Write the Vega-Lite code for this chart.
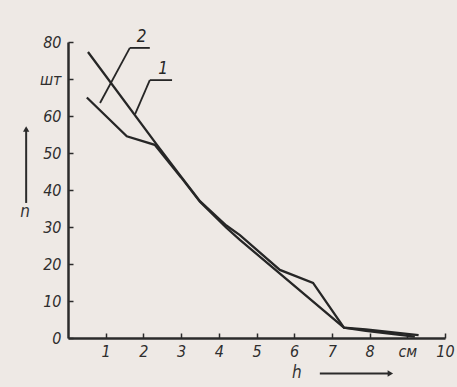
{
  "$schema": "https://vega.github.io/schema/vega-lite/v6.json",
  "width": 377,
  "height": 296,
  "autosize": {"type": "none"},
  "padding": {"left": 68, "top": 42, "right": 12, "bottom": 49},
  "background": "#eee9e5",
  "config": {
    "view": {"stroke": null},
    "axis": {
      "domainColor": "#2b2b2b",
      "domainWidth": 2.5,
      "tickColor": "#2b2b2b",
      "tickWidth": 1.5,
      "grid": false,
      "labelFont": "DejaVu Sans Condensed",
      "labelFontStyle": "italic",
      "labelFontSize": 16,
      "labelColor": "#2e2e2e",
      "title": null
    }
  },
  "datasets": {
    "curves": [
      {"curve": "1", "h": 0.53, "n": 77.3},
      {"curve": "1", "h": 2.36, "n": 52.2},
      {"curve": "1", "h": 3.0, "n": 43.6},
      {"curve": "1", "h": 3.5, "n": 37.0},
      {"curve": "1", "h": 4.2, "n": 30.4},
      {"curve": "1", "h": 4.56, "n": 27.8},
      {"curve": "1", "h": 5.62, "n": 18.4},
      {"curve": "1", "h": 6.5, "n": 14.9},
      {"curve": "1", "h": 7.32, "n": 2.8},
      {"curve": "1", "h": 7.9, "n": 2.3},
      {"curve": "1", "h": 9.3, "n": 0.8},
      {"curve": "2", "h": 0.5, "n": 65},
      {"curve": "2", "h": 1.56, "n": 54.5},
      {"curve": "2", "h": 2.3, "n": 52.2},
      {"curve": "2", "h": 3.0, "n": 43.4},
      {"curve": "2", "h": 3.5, "n": 36.8},
      {"curve": "2", "h": 4.2, "n": 29.8},
      {"curve": "2", "h": 4.56, "n": 26.5},
      {"curve": "2", "h": 7.32, "n": 2.8},
      {"curve": "2", "h": 7.9, "n": 1.9},
      {"curve": "2", "h": 9.2, "n": 0.4}
    ],
    "leaders": [
      {"x": 1.64, "y": 78.4, "x2": 0.85, "y2": 63.5},
      {"x": 1.64, "y": 78.4, "x2": 2.17, "y2": 78.4},
      {"x": 2.17, "y": 69.7, "x2": 1.78, "y2": 60.5},
      {"x": 2.17, "y": 69.7, "x2": 2.76, "y2": 69.7}
    ],
    "curveLabels": [
      {"x": 1.95, "y": 81.4, "label": "2"},
      {"x": 2.52, "y": 72.6, "label": "1"}
    ],
    "arrows": [
      {"x": -1.11, "y": 36.5, "x2": -1.11, "y2": 56},
      {"x": 6.68, "y": -9.6, "x2": 8.5, "y2": -9.6}
    ],
    "titles": [
      {"x": 6.07, "y": -9.4, "label": "h"},
      {"x": -1.14, "y": 34, "label": "n"}
    ]
  },
  "layer": [
    {
      "data": {"name": "curves"},
      "mark": {"type": "line", "color": "#262626", "strokeWidth": 2.3},
      "encoding": {
        "x": {
          "field": "h", "type": "quantitative",
          "scale": {"domain": [0, 10], "nice": false, "zero": false},
          "axis": {
            "values": [1, 2, 3, 4, 5, 6, 7, 8, 9, 10],
            "tickCount": 20,
            "format": "d",
            "tickSize": -5,
            "labelPadding": 10,
            "labelOverlap": false,
            "labelFlush": false,
            "labelExpr": "datum.value == 9 ? 'см' : datum.label"
          }
        },
        "y": {
          "field": "n", "type": "quantitative",
          "scale": {"domain": [0, 80], "nice": false},
          "axis": {
            "values": [0, 10, 20, 30, 40, 50, 60, 70, 80],
            "tickCount": 20,
            "format": "d",
            "tickSize": -5,
            "labelPadding": 12,
            "labelOverlap": false,
            "labelFlush": false,
            "labelExpr": "datum.value == 70 ? 'шт' : datum.label"
          }
        },
        "detail": {"field": "curve"}
      }
    },
    {
      "data": {"name": "leaders"},
      "mark": {"type": "rule", "color": "#262626", "strokeWidth": 1.8},
      "encoding": {
        "x": {"field": "x", "type": "quantitative"},
        "y": {"field": "y", "type": "quantitative"},
        "x2": {"field": "x2"},
        "y2": {"field": "y2"}
      }
    },
    {
      "data": {"name": "curveLabels"},
      "mark": {"type": "text", "font": "DejaVu Sans Condensed", "fontStyle": "italic", "fontSize": 17, "color": "#262626", "baseline": "middle", "align": "center"},
      "encoding": {
        "x": {"field": "x", "type": "quantitative"},
        "y": {"field": "y", "type": "quantitative"},
        "text": {"field": "label"}
      }
    },
    {
      "data": {"name": "arrows"},
      "mark": {"type": "rule", "color": "#2b2b2b", "strokeWidth": 2},
      "encoding": {
        "x": {"field": "x", "type": "quantitative"},
        "y": {"field": "y", "type": "quantitative"},
        "x2": {"field": "x2"},
        "y2": {"field": "y2"}
      }
    },
    {
      "data": {"values": [{"x": -1.11, "y": 56.5}]},
      "mark": {"type": "point", "shape": "triangle-up", "filled": true, "color": "#2b2b2b", "size": 40, "opacity": 1},
      "encoding": {
        "x": {"field": "x", "type": "quantitative"},
        "y": {"field": "y", "type": "quantitative"}
      }
    },
    {
      "data": {"values": [{"x": 8.55, "y": -9.6}]},
      "mark": {"type": "point", "shape": "triangle-right", "filled": true, "color": "#2b2b2b", "size": 40, "opacity": 1},
      "encoding": {
        "x": {"field": "x", "type": "quantitative"},
        "y": {"field": "y", "type": "quantitative"}
      }
    },
    {
      "data": {"name": "titles"},
      "mark": {"type": "text", "font": "DejaVu Sans Condensed", "fontStyle": "italic", "fontSize": 17, "color": "#333333", "baseline": "middle", "align": "center"},
      "encoding": {
        "x": {"field": "x", "type": "quantitative"},
        "y": {"field": "y", "type": "quantitative"},
        "text": {"field": "label"}
      }
    }
  ]
}
